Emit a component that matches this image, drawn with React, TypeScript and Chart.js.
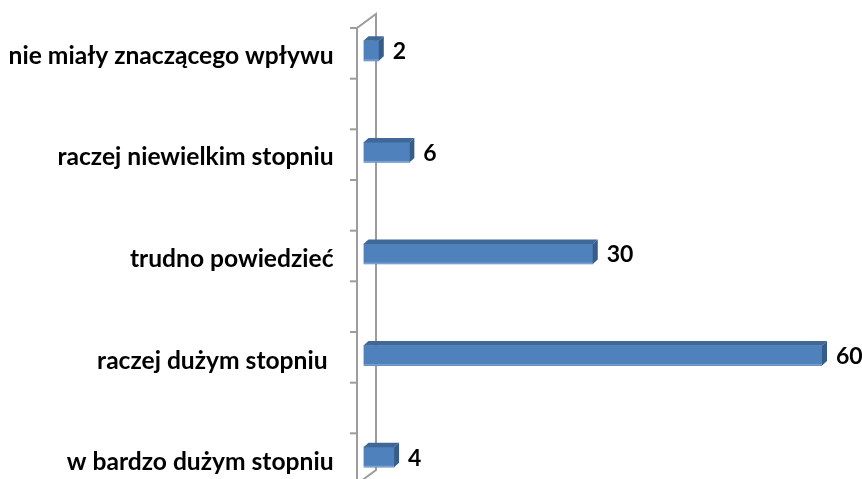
import React, { useEffect, useRef } from "react";
import { Chart, registerables } from "chart.js";

Chart.register(...registerables);

const categories = [
  "nie miały znaczącego wpływu",
  "raczej niewielkim stopniu",
  "trudno powiedzieć",
  "raczej dużym stopniu ",
  "w bardzo dużym stopniu",
];
const values = [2, 6, 30, 60, 4];
const valueLabels = ["2", "6", "30", "60", "4"];

const FONT = "Lato";
const FRONT = "#4F81BD";
const TOP = "#3F6896";
const SIDE = "#375C88";
const AXIS = "#9C9C9C";
const BAR_DX = 5;
const BAR_DY = -4.5;
const WALL_DX = 19;
const WALL_DY = -14;
const BAR_SHIFT = 6.5;

const threeD = {
  id: "threeD",
  beforeDatasetsDraw(chart: any) {
    const { ctx } = chart;
    const xs = chart.scales.x;
    const ys = chart.scales.y;
    const x0 = xs.getPixelForValue(0) - BAR_SHIFT;
    const top = ys.top + 28;
    const bottom = ys.bottom - 24;
    ctx.save();
    ctx.strokeStyle = AXIS;
    ctx.lineWidth = 2;
    ctx.beginPath();
    ctx.moveTo(x0, bottom);
    ctx.lineTo(x0, top);
    ctx.lineTo(x0 + WALL_DX, top + WALL_DY);
    ctx.lineTo(x0 + WALL_DX, bottom + WALL_DY);
    ctx.lineTo(x0, bottom);
    ctx.stroke();
    const n = 9;
    for (let i = 0; i <= n; i++) {
      const y = top + (i * (bottom - top)) / n;
      ctx.beginPath();
      ctx.moveTo(x0 - 7, y);
      ctx.lineTo(x0, y);
      ctx.stroke();
    }
    ctx.restore();
  },
  afterDatasetsDraw(chart: any) {
    const { ctx } = chart;
    const meta = chart.getDatasetMeta(0);
    ctx.save();
    meta.data.forEach((bar: any, i: number) => {
      const { x, y, base, height } = bar.getProps(["x", "y", "base", "height"], true);
      const t = y - height / 2;
      const b = y + height / 2;
      // top face
      ctx.fillStyle = TOP;
      ctx.beginPath();
      ctx.moveTo(base, t);
      ctx.lineTo(base + BAR_DX, t + BAR_DY);
      ctx.lineTo(x + BAR_DX, t + BAR_DY);
      ctx.lineTo(x, t);
      ctx.closePath();
      ctx.fill();
      // side face
      ctx.fillStyle = SIDE;
      ctx.beginPath();
      ctx.moveTo(x, t);
      ctx.lineTo(x + BAR_DX, t + BAR_DY);
      ctx.lineTo(x + BAR_DX, b + BAR_DY);
      ctx.lineTo(x, b);
      ctx.closePath();
      ctx.fill();
      // subtle highlight on bottom edge
      ctx.fillStyle = "rgba(255,255,255,0.25)";
      ctx.fillRect(base, b - 1.5, x - base, 1.5);
      // value label
      ctx.fillStyle = "#000";
      ctx.font = `bold 23px ${FONT}`;
      ctx.textAlign = "left";
      ctx.textBaseline = "middle";
      ctx.fillText(valueLabels[i], x + 14, y + 1);
    });
    ctx.restore();
  },
};

export default function App() {
  const ref = useRef<HTMLCanvasElement | null>(null);
  useEffect(() => {
    if (!ref.current) return;
    const chart = new Chart(ref.current, {
      type: "bar",
      data: {
        labels: categories,
        datasets: [
          {
            data: values,
            backgroundColor: FRONT,
            borderWidth: 0,
            barThickness: 20,
          },
        ],
      },
      options: {
        indexAxis: "y",
        responsive: false,
        animation: false,
        layout: { padding: { left: 0, right: 40, top: 0, bottom: 0 } },
        plugins: {
          legend: { display: false },
          tooltip: { enabled: false },
        },
        scales: {
          x: {
            display: false,
            min: 0,
            max: 60,
          },
          y: {
            grid: { display: false, drawTicks: false },
            border: { display: false },
            ticks: {
              color: "#000",
              padding: 30,
              labelOffset: 5,
              font: { family: FONT, size: 24.6, weight: "bold" },
            },
            afterFit(scale: any) {
              scale.width = 363.5;
              scale.paddingTop = 0;
              scale.paddingBottom = 0;
            },
          },
        },
      },
      plugins: [threeD],
    });
    return () => chart.destroy();
  }, []);
  return (
    <div
      style={{
        position: "fixed",
        left: 0,
        top: 0,
        width: 862,
        height: 479,
        overflow: "hidden",
        background: "#fff",
      }}
    >
      <canvas ref={ref} width={862} height={508} style={{ display: "block" }} />
    </div>
  );
}
